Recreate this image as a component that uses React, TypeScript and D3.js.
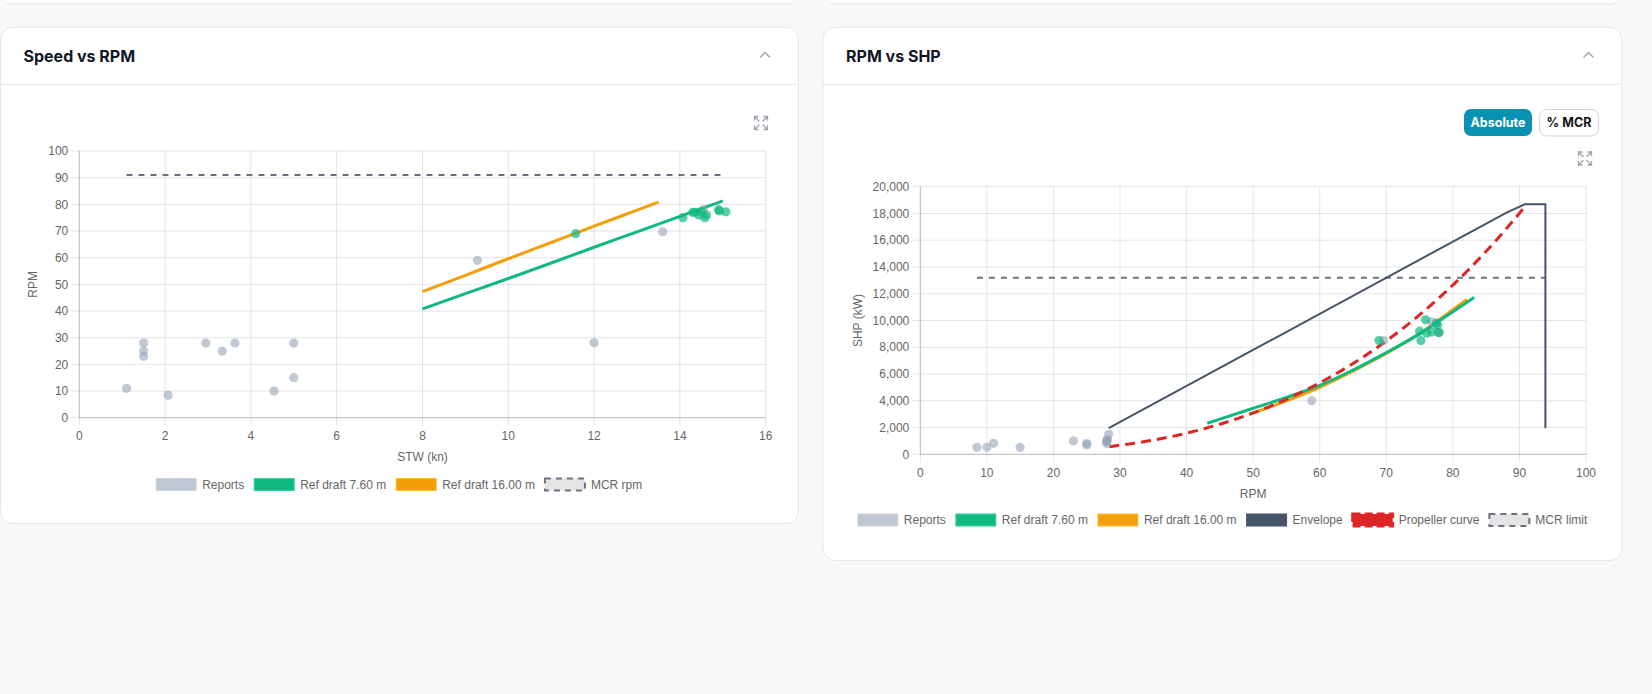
import React from "react";
import * as d3 from "d3";

// ---------- Speed vs RPM data ----------
const speedReportsGrey: [number, number][] = [
  [1.1, 11], [1.5, 28], [1.5, 25], [1.5, 23], [2.07, 8.4], [2.95, 28], [3.33, 25],
  [3.63, 28], [4.54, 10], [5.0, 28], [5.0, 15], [9.28, 59], [12.0, 28.1], [13.6, 69.7], [14.55, 78],
];
const speedReportsGreen: [number, number][] = [
  [11.57, 69], [14.07, 75], [14.3, 77], [14.35, 77], [14.44, 76], [14.58, 75], [14.62, 76],
  [14.9, 78], [14.92, 77.5], [15.07, 77.2], [14.5, 77.3],
];
const speedRef760: [number, number][] = [
  [8, 40.8], [9, 46.5], [10, 52.2], [11, 58.0], [12, 63.9], [13, 69.7], [14, 75.5], [15, 81.3],
];
const speedRef1600: [number, number][] = [
  [8, 47.3], [9, 53.4], [10, 59.6], [11, 65.7], [12, 71.8], [13, 77.8], [13.5, 80.8],
];
const mcrRpm: [number, number][] = [[1.1, 91], [15.0, 91]];
const speedXTicks = [0, 2, 4, 6, 8, 10, 12, 14, 16];
const speedYTicks = [0, 10, 20, 30, 40, 50, 60, 70, 80, 90, 100];

// ---------- RPM vs SHP data ----------
const shpReportsGrey: [number, number][] = [
  [8.5, 520], [10, 520], [11, 820], [15, 520], [23, 1000], [25, 800], [25, 700],
  [28, 800], [28, 1000], [28.1, 1100], [28, 950], [28.3, 1500], [58.8, 4000], [69.6, 8500],
  [76.8, 9900], [77.9, 9100], [77.9, 9100],
];
const shpReportsGreen: [number, number][] = [
  [68.9, 8500], [75.9, 10050], [75, 9200], [75.2, 8500], [76.1, 9050], [76.8, 9150],
  [77.5, 9800], [77.7, 9650], [77.9, 9100],
];
const shpRef760: [number, number][] = [
  [43.1, 2320], [50, 3440], [55, 4250], [60, 5150], [65, 6300], [70, 7600], [75, 9000], [80, 10660], [83.2, 11730],
];
const shpRef1600: [number, number][] = [
  [49.4, 2990], [55, 3990], [60, 5000], [65, 6220], [70, 7530], [75, 9020], [80, 10800], [82.1, 11580],
];
const envelope: [number, number][] = [
  [28.3, 1950], [88, 18050], [90.8, 18680], [93.9, 18680], [93.9, 1950],
];
const propellerCurve: [number, number][] = [
  [28.4, 570], [35, 1060], [40, 1580], [45, 2250], [50, 3090], [55, 4110], [60, 5340],
  [65, 6780], [70, 8470], [75, 10420], [80, 12650], [85, 15170], [90.5, 18310],
];
const mcrLimit: [number, number][] = [[8.5, 13200], [93.9, 13200]];
const shpXTicks = [0, 10, 20, 30, 40, 50, 60, 70, 80, 90, 100];
const shpYTicks = [0, 2000, 4000, 6000, 8000, 10000, 12000, 14000, 16000, 18000, 20000];

const FONT = "'Liberation Sans', Arial, Helvetica, sans-serif";
const UI_FONT = "Inter, 'Noto Sans', sans-serif";
const GREEN = "#10b981";
const ORANGE = "#f59e0b";
const SLATE = "#475569";
const RED = "#dc2626";
const MCR = "#6b7280";
const GREY_PT = "rgba(148,163,184,0.6)";
const GREEN_PT = "rgba(16,185,129,0.7)";

type LegendItem = { label: string; fill: string; stroke: string; sw: number; dash?: string };

function measure(text: string): number {
  if (typeof document === "undefined") return text.length * 6;
  const c = document.createElement("canvas").getContext("2d");
  if (!c) return text.length * 6;
  c.font = `12px ${FONT}`;
  return c.measureText(text).width;
}

function Legend({ items, cx, y }: { items: LegendItem[]; cx: number; y: number }) {
  const widths = items.map((it) => 40 + 6 + measure(it.label));
  const total = widths.reduce((a, b) => a + b, 0) + 10 * (items.length - 1);
  let x = cx - total / 2;
  return (
    <g>
      {items.map((it, i) => {
        const x0 = x;
        x += widths[i] + 10;
        return (
          <g key={it.label}>
            <rect x={x0} y={y - 6} width={40} height={12} fill={it.fill} stroke={it.stroke}
              strokeWidth={it.sw} strokeDasharray={it.dash} />
            <text x={x0 + 46} y={y} dy="0.35em" fontFamily={FONT} fontSize={12} fill="#666">{it.label}</text>
          </g>
        );
      })}
    </g>
  );
}

function ExpandIcon({ x, y }: { x: number; y: number }) {
  return (
    <g transform={`translate(${x},${y})`} stroke="#9ca3af" strokeWidth={1.3} fill="none" strokeLinecap="round">
      <path d="M6,6 L1.5,1.5 M1.5,5 L1.5,1.5 L5,1.5" />
      <path d="M10,6 L14.5,1.5 M11,1.5 L14.5,1.5 L14.5,5" />
      <path d="M6,10 L1.5,14.5 M1.5,11 L1.5,14.5 L5,14.5" />
      <path d="M10,10 L14.5,14.5 M14.5,11 L14.5,14.5 L11,14.5" />
    </g>
  );
}

function Chevron({ cx, cy }: { cx: number; cy: number }) {
  return <path d={`M${cx - 5},${cy + 2.5} L${cx},${cy - 2.5} L${cx + 5},${cy + 2.5}`} stroke="#9ca3af" strokeWidth={1.3} fill="none" />;
}

function Card({ x, y, w, h, title }: { x: number; y: number; w: number; h: number; title: string }) {
  return (
    <g>
      <rect x={x} y={y} width={w} height={h} rx={12} fill="#fff" stroke="#e5e7eb" />
      <line x1={x} x2={x + w} y1={84.3} y2={84.3} stroke="#e5e7eb" />
      <text x={x + 23} y={56} dy="0.35em" fontFamily={UI_FONT} fontWeight={700} fontSize={16} fill="#111827">{title}</text>
      <Chevron cx={x + w - 33.5} cy={55} />
    </g>
  );
}

type Axes = {
  x: d3.ScaleLinear<number, number>;
  y: d3.ScaleLinear<number, number>;
  xTicks: number[];
  yTicks: number[];
  fmt: (v: number) => string;
  xTitle: string;
  yTitle: string;
  yTitleX: number;
};

function AxesG({ x, y, xTicks, yTicks, fmt, xTitle, yTitle, yTitleX }: Axes) {
  const [x0, x1] = x.range();
  const [y0, y1] = y.range();
  return (
    <g>
      {xTicks.map((t) => (
        <g key={"x" + t}>
          <line x1={x(t)} x2={x(t)} y1={y1} y2={y0 + 8} stroke="rgba(0,0,0,0.1)" />
          <text x={x(t)} y={y0 + 18} dy="0.35em" textAnchor="middle" fontFamily={FONT} fontSize={12} fill="#666">{t}</text>
        </g>
      ))}
      {yTicks.map((t) => (
        <g key={"y" + t}>
          <line x1={x0 - 8} x2={x1} y1={y(t)} y2={y(t)} stroke="rgba(0,0,0,0.1)" />
          <text x={x0 - 11} y={y(t)} dy="0.35em" textAnchor="end" fontFamily={FONT} fontSize={12} fill="#666">{fmt(t)}</text>
        </g>
      ))}
      <line x1={x0} x2={x1} y1={y0} y2={y0} stroke="rgba(0,0,0,0.2)" />
      <line x1={x0} x2={x0} y1={y0} y2={y1} stroke="rgba(0,0,0,0.2)" />
      <text x={(x0 + x1) / 2} y={y0 + 39} dy="0.35em" textAnchor="middle" fontFamily={FONT} fontSize={12} fill="#666">{xTitle}</text>
      <text transform={`translate(${yTitleX},${(y0 + y1) / 2}) rotate(-90)`} dy="0.35em" textAnchor="middle" fontFamily={FONT} fontSize={12} fill="#666">{yTitle}</text>
    </g>
  );
}

export default function App() {
  const xL = d3.scaleLinear().domain([0, 16]).range([79.3, 765.7]);
  const yL = d3.scaleLinear().domain([0, 100]).range([417.7, 151]);
  const xR = d3.scaleLinear().domain([0, 100]).range([920.3, 1586]);
  const yR = d3.scaleLinear().domain([0, 20000]).range([454.3, 186.7]);

  const lineL = d3.line<[number, number]>().x((d) => xL(d[0])).y((d) => yL(d[1])).curve(d3.curveMonotoneX);
  const lineLs = d3.line<[number, number]>().x((d) => xL(d[0])).y((d) => yL(d[1]));
  const lineR = d3.line<[number, number]>().x((d) => xR(d[0])).y((d) => yR(d[1])).curve(d3.curveMonotoneX);
  const lineRs = d3.line<[number, number]>().x((d) => xR(d[0])).y((d) => yR(d[1]));

  const fmtComma = d3.format(",");

  const legendL: LegendItem[] = [
    { label: "Reports", fill: "#bfc7d3", stroke: "#cfd5de", sw: 1 },
    { label: "Ref draft 7.60 m", fill: GREEN, stroke: "#34d399", sw: 1 },
    { label: "Ref draft 16.00 m", fill: ORANGE, stroke: "#fbbf24", sw: 1 },
    { label: "MCR rpm", fill: "#e5e5e5", stroke: MCR, sw: 2, dash: "6,5" },
  ];
  const legendR: LegendItem[] = [
    { label: "Reports", fill: "#bfc7d3", stroke: "#cfd5de", sw: 1 },
    { label: "Ref draft 7.60 m", fill: GREEN, stroke: "#34d399", sw: 1 },
    { label: "Ref draft 16.00 m", fill: ORANGE, stroke: "#fbbf24", sw: 1 },
    { label: "Envelope", fill: SLATE, stroke: SLATE, sw: 1 },
    { label: "Propeller curve", fill: RED, stroke: RED, sw: 3, dash: "8,4" },
    { label: "MCR limit", fill: "#e5e5e5", stroke: MCR, sw: 2, dash: "6,5" },
  ];

  const R = 4.6;

  return (
    <div style={{ position: "fixed", left: 0, top: 0 }}>
      <svg width={1652} height={694} style={{ display: "block" }}>
        <rect x={0} y={0} width={1652} height={694} fill="#f9f9f9" />
        {/* previous cards */}
        <rect x={0} y={-40} width={798.5} height={44} rx={12} fill="#fff" stroke="#e5e7eb" />
        <rect x={823} y={-40} width={799} height={44} rx={12} fill="#fff" stroke="#e5e7eb" />

        {/* Left card */}
        <Card x={0.5} y={27.3} w={798} h={496.3} title="Speed vs RPM" />
        <ExpandIcon x={753} y={115} />
        <AxesG x={xL} y={yL} xTicks={speedXTicks} yTicks={speedYTicks} fmt={(v) => String(v)}
          xTitle="STW (kn)" yTitle="RPM" yTitleX={32.7} />
        <path d={lineLs(mcrRpm) || ""} fill="none" stroke={MCR} strokeWidth={2} strokeDasharray="6,6" />
        <path d={lineL(speedRef1600) || ""} fill="none" stroke={ORANGE} strokeWidth={3} />
        <path d={lineL(speedRef760) || ""} fill="none" stroke={GREEN} strokeWidth={3} />
        {speedReportsGrey.map((d, i) => (
          <circle key={"lg" + i} cx={xL(d[0])} cy={yL(d[1])} r={R} fill={GREY_PT} />
        ))}
        {speedReportsGreen.map((d, i) => (
          <circle key={"lgr" + i} cx={xL(d[0])} cy={yL(d[1])} r={R} fill={GREEN_PT} />
        ))}
        <Legend items={legendL} cx={399.2} y={484.5} />

        {/* Right card */}
        <Card x={823} y={27.3} w={799} h={533.2} title="RPM vs SHP" />
        <rect x={1464} y={109} width={68} height={27} rx={7} fill="#0891b2" />
        <text x={1498} y={122.5} dy="0.35em" textAnchor="middle" fontFamily={UI_FONT} fontWeight={700} fontSize={12.5} fill="#fff">Absolute</text>
        <rect x={1539.5} y={109.5} width={59} height={26.5} rx={7} fill="#fff" stroke="#d1d5db" />
        <text x={1569} y={122.5} dy="0.35em" textAnchor="middle" fontFamily={UI_FONT} fontWeight={700} fontSize={12.5} fill="#111">% MCR</text>
        <ExpandIcon x={1577} y={150.5} />
        <AxesG x={xR} y={yR} xTicks={shpXTicks} yTicks={shpYTicks} fmt={(v) => fmtComma(v)}
          xTitle="RPM" yTitle="SHP (kW)" yTitleX={857.3} />
        <path d={lineRs(mcrLimit) || ""} fill="none" stroke={MCR} strokeWidth={2} strokeDasharray="6,6" />
        <path d={lineRs(envelope) || ""} fill="none" stroke={SLATE} strokeWidth={2} />
        <path d={lineR(shpRef1600) || ""} fill="none" stroke={ORANGE} strokeWidth={3} />
        <path d={lineR(shpRef760) || ""} fill="none" stroke={GREEN} strokeWidth={3} />
        <path d={lineR(propellerCurve) || ""} fill="none" stroke={RED} strokeWidth={3} strokeDasharray="10,6" />
        {shpReportsGrey.map((d, i) => (
          <circle key={"rg" + i} cx={xR(d[0])} cy={yR(d[1])} r={R} fill={GREY_PT} />
        ))}
        {shpReportsGreen.map((d, i) => (
          <circle key={"rgr" + i} cx={xR(d[0])} cy={yR(d[1])} r={R} fill={GREEN_PT} />
        ))}
        <Legend items={legendR} cx={1222.6} y={520} />
      </svg>
    </div>
  );
}
